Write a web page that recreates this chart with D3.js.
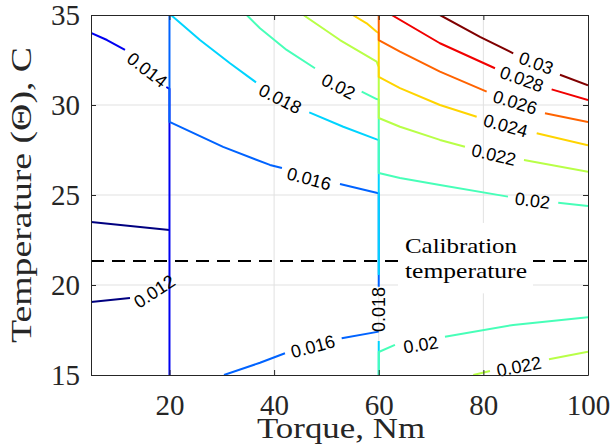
<!DOCTYPE html>
<html>
<head>
<meta charset="utf-8">
<script src="https://cdn.jsdelivr.net/npm/d3@7"></script>
<style>
  body { margin: 0; background: #fff; }
  svg { display: block; }
</style>
</head>
<body>
<div id="chart"></div>
<script>
const width = 611;
const height = 446;

const levels = [0.012, 0.014, 0.016, 0.018, 0.02, 0.022, 0.024, 0.026, 0.028, 0.03];
const xTicks = [20, 40, 60, 80, 100];
const yTicks = [15, 20, 25, 30, 35];
const calibTemp = 21.33;
const calibText = ["Calibration", "temperature"];

// contour pieces, points are [torque, temperature]
// (pieces are split where the inline labels sit)
const contourLines = [
  { level: 0.012, pts: [[5, 23.5], [20, 23.06]] },
  { level: 0.012, pts: [[5, 19.06], [12.45, 19.28]] },
  { level: 0.014, pts: [[5, 34.0], [8.06, 33.61], [11.5, 33.06]] },
  { level: 0.014, pts: [[19.4, 31.0], [20, 30.9], [20, 15]] },
  { level: 0.016, pts: [[20, 35], [20, 29.06], [30.25, 27.67], [39.2, 26.67], [41.5, 26.5]] },
  { level: 0.016, pts: [[52.59, 25.61], [59.76, 25.11], [60, 25.1], [60, 19.9]] },
  { level: 0.016, pts: [[60, 17.41], [52.92, 17.04]] },
  { level: 0.016, pts: [[42.08, 16.21], [37.3, 15.68], [30.42, 15]] },
  { level: 0.018, pts: [[20.29, 35], [25.83, 33.61], [31.57, 32.32], [36.54, 31.26]] },
  { level: 0.018, pts: [[46.72, 29.59], [53.22, 28.79], [59.6, 28.09], [60, 28.05], [60, 20.56]] },
  { level: 0.018, pts: [[60, 16.89], [60, 15]] },
  { level: 0.02, pts: [[34.76, 35], [37.3, 34.26], [42.4, 33.06], [47.81, 32.04]] },
  { level: 0.02, pts: [[56.74, 30.74], [59.6, 30.33], [60, 30.3], [60, 26.22], [64.06, 25.94], [71.7, 25.56], [84.7, 24.91]] },
  { level: 0.02, pts: [[94.31, 24.57], [100, 24.39]] },
  { level: 0.02, pts: [[60, 15], [60, 16.28], [63.1, 16.67]] },
  { level: 0.02, pts: [[72.66, 17.13], [85.71, 17.78], [100, 18.21]] },
  { level: 0.022, pts: [[45.58, 35], [52.59, 33.61], [59.6, 32.41], [60, 32.1], [60, 29.28], [64.06, 28.79], [71.7, 28.06], [76.48, 27.68]] },
  { level: 0.022, pts: [[87.76, 26.94], [100, 26.29]] },
  { level: 0.022, pts: [[78.07, 15], [81.26, 15.22]] },
  { level: 0.022, pts: [[92.54, 15.87], [100, 16.29]] },
  { level: 0.024, pts: [[55.02, 35], [57.69, 34.54], [59.6, 34.07], [60, 34.0], [60, 31.56], [64.06, 30.94], [71.7, 30.0], [78.72, 29.35]] },
  { level: 0.024, pts: [[90.19, 28.43], [100, 27.76]] },
  { level: 0.026, pts: [[60, 35], [60, 33.61], [64.06, 32.96], [71.7, 31.85], [80.63, 30.74]] },
  { level: 0.026, pts: [[91.77, 29.54], [100, 29.05]] },
  { level: 0.028, pts: [[62.47, 35], [71.7, 33.43], [82.22, 32.04]] },
  { level: 0.028, pts: [[93.05, 30.87], [100, 30.27]] },
  { level: 0.03, pts: [[71.7, 35], [79.35, 33.79], [85.71, 32.87]] },
  { level: 0.03, pts: [[94.64, 31.68], [100, 31.1]] },
];

// inline labels: level, centre [torque, temperature], rotation in degrees
const contourLabels = [
  { level: 0.012, x: 17.14, y: 19.63, angle: -33 },
  { level: 0.014, x: 15.7, y: 31.94, angle: 38 },
  { level: 0.016, x: 46.67, y: 25.89, angle: 15 },
  { level: 0.016, x: 47.43, y: 16.57, angle: -15 },
  { level: 0.018, x: 41.12, y: 30.33, angle: 27 },
  { level: 0.018, x: 60, y: 18.64, angle: -90 },
  { level: 0.02, x: 52.27, y: 31.02, angle: 27 },
  { level: 0.02, x: 89.38, y: 24.68, angle: 7 },
  { level: 0.02, x: 68.07, y: 16.67, angle: -9 },
  { level: 0.022, x: 81.97, y: 27.22, angle: 13 },
  { level: 0.022, x: 86.8, y: 15.46, angle: -11 },
  { level: 0.024, x: 84.22, y: 28.84, angle: 15.5 },
  { level: 0.026, x: 86.04, y: 30.14, angle: 17 },
  { level: 0.028, x: 87.32, y: 31.43, angle: 20 },
  { level: 0.03, x: 90.05, y: 32.32, angle: 20.5 },
];

const plot = { left: 91, right: 588, top: 15, bottom: 375 };
const serif = "'Liberation Serif', 'Times New Roman', serif";

const x = d3.scaleLinear().domain([5, 100]).range([plot.left, plot.right]);
const y = d3.scaleLinear().domain([15, 35]).range([plot.bottom, plot.top]);

// matlab jet, spread over the contour levels
function jet(v) {
  const t = (v - levels[0]) / (levels[levels.length - 1] - levels[0]);
  const c = (a) => Math.round(255 * Math.max(0, Math.min(1, a)));
  return d3.rgb(
    c(Math.min(4 * t - 1.5, -4 * t + 4.5)),
    c(Math.min(4 * t - 0.5, -4 * t + 3.5)),
    c(Math.min(4 * t + 0.5, -4 * t + 2.5))
  ).formatHex();
}

const svg = d3.select("#chart").append("svg")
  .attr("width", width)
  .attr("height", height);

svg.append("defs").append("clipPath").attr("id", "clip")
  .append("rect")
  .attr("x", plot.left).attr("y", plot.top)
  .attr("width", plot.right - plot.left)
  .attr("height", plot.bottom - plot.top);

// grid
const grid = svg.append("g").attr("class", "grid");
grid.selectAll("line.gx")
  .data(xTicks.filter((d) => d < 100))
  .join("line")
  .attr("x1", (d) => x(d)).attr("x2", (d) => x(d))
  .attr("y1", plot.top).attr("y2", plot.bottom)
  .attr("stroke", "#e1e1e1");
grid.selectAll("line.gy")
  .data(yTicks.filter((d) => d > 15 && d < 35))
  .join("line")
  .attr("x1", plot.left).attr("x2", plot.right)
  .attr("y1", (d) => y(d)).attr("y2", (d) => y(d))
  .attr("stroke", "#e1e1e1");

// calibration line
svg.append("line")
  .attr("x1", plot.left).attr("x2", plot.right)
  .attr("y1", y(calibTemp)).attr("y2", y(calibTemp))
  .attr("stroke", "#000")
  .attr("stroke-width", 2)
  .attr("stroke-dasharray", "13,8");

// calibration label with white box behind it
const calib = svg.append("g");
const calibBox = calib.append("rect").attr("fill", "#fff");
const calibLabel = calib.append("text")
  .attr("font-family", serif)
  .attr("font-size", 22)
  .attr("fill", "#000");
calibLabel.selectAll("tspan")
  .data(calibText)
  .join("tspan")
  .attr("x", x(65.02))
  .attr("y", (d, i) => (i === 0 ? y(21.78) : y(20.37)))
  .attr("textLength", (d, i) => (i === 0 ? 112 : 122))
  .attr("lengthAdjust", "spacingAndGlyphs")
  .text((d) => d);
const bb = calibLabel.node().getBBox();
calibBox
  .attr("x", bb.x - 7).attr("y", bb.y - 10)
  .attr("width", bb.width + 13).attr("height", bb.height + 20);

// contours
const line = d3.line()
  .x((d) => x(d[0]))
  .y((d) => y(d[1]));

svg.append("g")
  .attr("clip-path", "url(#clip)")
  .selectAll("path")
  .data(contourLines)
  .join("path")
  .attr("d", (d) => line(d.pts))
  .attr("fill", "none")
  .attr("stroke", (d) => jet(d.level))
  .attr("stroke-width", 2)
  .attr("stroke-linejoin", "round");

svg.append("g")
  .selectAll("text")
  .data(contourLabels)
  .join("text")
  .attr("transform", (d) => `translate(${x(d.x)},${y(d.y)}) rotate(${d.angle})`)
  .attr("text-anchor", "middle")
  .attr("dominant-baseline", "central")
  .attr("font-family", "'Liberation Sans', Arial, sans-serif")
  .attr("font-size", 18)
  .attr("fill", "#000")
  .text((d) => String(d.level));

// axes: labels on bottom/left, bare inward ticks on top/right
const axisColor = "#262626";

const xAxis = svg.append("g")
  .attr("transform", `translate(0,${plot.bottom})`)
  .call(d3.axisBottom(x).tickValues(xTicks).tickSize(-5).tickSizeOuter(0).tickPadding(19));
const yAxis = svg.append("g")
  .attr("transform", `translate(${plot.left},0)`)
  .call(d3.axisLeft(y).tickValues(yTicks).tickSize(-5).tickSizeOuter(0).tickPadding(11));
const xTop = svg.append("g")
  .attr("transform", `translate(0,${plot.top})`)
  .call(d3.axisTop(x).tickValues(xTicks).tickSize(-5).tickSizeOuter(0).tickFormat(""));
const yRight = svg.append("g")
  .attr("transform", `translate(${plot.right},0)`)
  .call(d3.axisRight(y).tickValues(yTicks).tickSize(-5).tickSizeOuter(0).tickFormat(""));

[xAxis, yAxis, xTop, yRight].forEach((g) => {
  g.select(".domain").attr("stroke", axisColor);
  g.selectAll(".tick line").attr("stroke", axisColor);
  g.selectAll(".tick text")
    .attr("fill", axisColor)
    .attr("font-family", serif)
    .attr("font-size", 29);
});

// axis titles
svg.append("text")
  .attr("x", 341)
  .attr("y", 438)
  .attr("text-anchor", "middle")
  .attr("font-family", serif)
  .attr("font-size", 29)
  .attr("fill", axisColor)
  .attr("textLength", 168)
  .attr("lengthAdjust", "spacingAndGlyphs")
  .text("Torque, Nm");

svg.append("text")
  .attr("transform", `translate(31,${(plot.top + plot.bottom) / 2}) rotate(-90)`)
  .attr("text-anchor", "middle")
  .attr("font-family", serif)
  .attr("font-size", 29)
  .attr("fill", axisColor)
  .attr("textLength", 296)
  .attr("lengthAdjust", "spacingAndGlyphs")
  .text("Temperature (Θ), C");
</script>
</body>
</html>
